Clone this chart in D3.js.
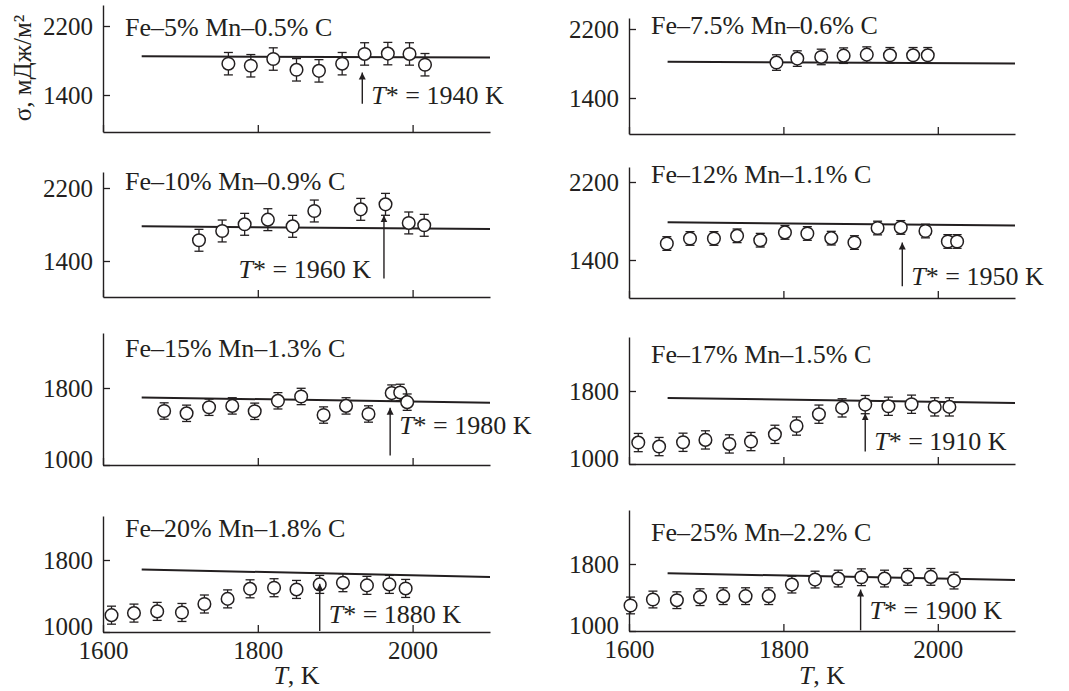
<!DOCTYPE html>
<html>
<head>
<meta charset="utf-8">
<script src="https://cdn.jsdelivr.net/npm/d3@7"></script>
<style>
  body { margin: 0; background: #fff; }
  svg { display: block; font-family: "Liberation Serif", "Times New Roman", serif; }
</style>
</head>
<body>
<svg id="chart" width="1069" height="691"></svg>
<script>
// ---- data ----
const titles = [
  'Fe–5% Mn–0.5% C', 'Fe–7.5% Mn–0.6% C',
  'Fe–10% Mn–0.9% C', 'Fe–12% Mn–1.1% C',
  'Fe–15% Mn–1.3% C', 'Fe–17% Mn–1.5% C',
  'Fe–20% Mn–1.8% C', 'Fe–25% Mn–2.2% C'
];

const temps = [
  [1762, 1791, 1820, 1850, 1879, 1909, 1938, 1968, 1996, 2016],
  [1791, 1818, 1849, 1878, 1908, 1938, 1968, 1987],
  [1724, 1754, 1783, 1813, 1845, 1873, 1933, 1965, 1995, 2015],
  [1649, 1679, 1710, 1740, 1770, 1802, 1831, 1862, 1892, 1922, 1952, 1984, 2013, 2025],
  [1679, 1708, 1737, 1767, 1796, 1826, 1856, 1885, 1914, 1943, 1973, 1984, 1993],
  [1612, 1639, 1670, 1699, 1730, 1758, 1789, 1817, 1846, 1876, 1906, 1936, 1966, 1996, 2015],
  [1611, 1640, 1670, 1702, 1731, 1761, 1790, 1821, 1850, 1880, 1910, 1941, 1970, 1991],
  [1602, 1631, 1662, 1692, 1722, 1751, 1781, 1811, 1841, 1871, 1901, 1931, 1961, 1991, 2021]
];

const sigmas = [
  [1763, 1739, 1817, 1692, 1680, 1763, 1876, 1880, 1876, 1751],
  [1811, 1857, 1876, 1891, 1903, 1895, 1895, 1895],
  [1627, 1729, 1802, 1853, 1780, 1948, 1966, 2021, 1817, 1791],
  [1569, 1621, 1621, 1648, 1603, 1683, 1672, 1624, 1579, 1728, 1734, 1697, 1590, 1590],
  [1561, 1537, 1600, 1614, 1558, 1667, 1712, 1519, 1614, 1530, 1747, 1754, 1653],
  [1235, 1191, 1238, 1264, 1220, 1246, 1325, 1416, 1546, 1615, 1651, 1633, 1655, 1626, 1626],
  [1187, 1210, 1229, 1217, 1311, 1368, 1480, 1492, 1473, 1529, 1548, 1518, 1529, 1484],
  [1305, 1376, 1368, 1404, 1416, 1416, 1416, 1554, 1614, 1626, 1642, 1626, 1646, 1646, 1602]
];

const errors = [130, 90, 120, 70, 85, 100, 100, 100];

// model line, from T = 1650 K to 2100 K
const fitT = [1650, 2100];
const fitSigma = [
  [1848, 1836], [1820, 1800], [1780, 1750], [1786, 1755],
  [1702, 1648], [1724, 1668], [1695, 1612], [1689, 1610]
];

// T* labels, where the arrows stand, arrow from/to sigma, label sigma
const tStar = [1940, null, 1960, 1950, 1980, 1910, 1880, 1900];
const arrowT = [1935, null, 1963, 1954, 1971, 1906, 1880, 1900];
const arrowFrom = [1300, null, 1207, 1131, 1098, 1137, 1010, 1008];
const arrowTo = [1660, null, 1900, 1579, 1595, 1554, 1537, 1495];
const labelSigma = [1405, null, 1317, 1234, 1420, 1257, 1206, 1250];
const labelSide = ['right', null, 'left', 'right', 'right', 'right', 'right', 'right'];

const xTicks = [1600, 1800, 2000];
const yTicksUpper = [1400, 2200];
const yTicksLower = [1000, 1800];

// ---- layout ----
const frames = [
  { x0: 103, x1: 490, top: 5,   bottom: 132, tickPx: [95, 26],   titleY: 36 },
  { x0: 629, x1: 1015, top: 18,  bottom: 134, tickPx: [98, 29],   titleY: 34 },
  { x0: 103, x1: 490, top: 172, bottom: 297, tickPx: [261, 188], titleY: 190 },
  { x0: 629, x1: 1015, top: 167, bottom: 298, tickPx: [260, 182], titleY: 183 },
  { x0: 103, x1: 490, top: 333, bottom: 465, tickPx: [465, 388], titleY: 357 },
  { x0: 629, x1: 1015, top: 337, bottom: 464, tickPx: [464, 391], titleY: 363 },
  { x0: 103, x1: 490, top: 516, bottom: 632, tickPx: [632, 560], titleY: 537 },
  { x0: 629, x1: 1015, top: 510, bottom: 631, tickPx: [631, 564], titleY: 541 }
];

const ink = '#231f20';
const fontSize = 26;
const tickFont = 25;

const svg = d3.select('#chart');
svg.append('rect').attr('width', 1069).attr('height', 691).attr('fill', '#fff');

svg.append('defs').append('marker')
  .attr('id', 'arrowhead')
  .attr('viewBox', '0 0 10 10')
  .attr('refX', 10).attr('refY', 5)
  .attr('markerWidth', 7).attr('markerHeight', 9)
  .attr('markerUnits', 'userSpaceOnUse')
  .attr('orient', 'auto')
  .append('path')
  .attr('d', 'M0,0 L10,5 L0,10 Z')
  .attr('fill', ink);

frames.forEach((f, i) => {
  const ticks = i < 4 ? yTicksUpper : yTicksLower;
  const bottomRow = i >= 6;

  const x = d3.scaleLinear().domain([1600, 2100]).range([f.x0, f.x1]);
  const yTmp = d3.scaleLinear().domain(ticks).range(f.tickPx);
  const y = d3.scaleLinear()
    .domain([yTmp.invert(f.bottom), yTmp.invert(f.top)])
    .range([f.bottom, f.top]);

  const g = svg.append('g');

  // axes
  const yAxis = g.append('g')
    .attr('transform', `translate(${f.x0},0)`)
    .call(d3.axisLeft(y).tickValues(ticks).tickSizeInner(-7).tickSizeOuter(0).tickPadding(10).tickFormat(d3.format('d')));
  const xAxis = g.append('g')
    .attr('transform', `translate(0,${f.bottom})`)
    .call(d3.axisBottom(x).tickValues(xTicks).tickSizeInner(-7).tickSizeOuter(0).tickPadding(9)
      .tickFormat(bottomRow ? d3.format('d') : () => ''));

  [yAxis, xAxis].forEach(a => {
    a.attr('font-family', null).attr('font-size', null);
    a.select('.domain').attr('stroke', ink).attr('stroke-width', 1.4);
    a.selectAll('.tick line').attr('stroke', ink).attr('stroke-width', 1.3);
    a.selectAll('.tick text').attr('fill', ink).style('font-size', tickFont + 'px');
  });
  // the "1000" label sits a little higher, clear of the corner
  yAxis.selectAll('.tick text').filter(d => d === 1000).attr('dy', '0.1em');

  // title
  g.append('text')
    .attr('x', f.x0 + 22)
    .attr('y', f.titleY)
    .attr('fill', ink)
    .style('font-size', fontSize + 'px')
    .text(titles[i]);

  // model line
  g.append('line')
    .attr('x1', x(fitT[0])).attr('y1', y(fitSigma[i][0]))
    .attr('x2', x(fitT[1])).attr('y2', y(fitSigma[i][1]))
    .attr('stroke', ink).attr('stroke-width', 2);

  // points with error bars
  const pts = temps[i].map((t, k) => ({ t, s: sigmas[i][k], e: errors[i] }));
  const pg = g.append('g').selectAll('g').data(pts).enter().append('g');
  pg.append('line')
    .attr('x1', d => x(d.t)).attr('x2', d => x(d.t))
    .attr('y1', d => y(d.s - d.e)).attr('y2', d => y(d.s + d.e))
    .attr('stroke', ink).attr('stroke-width', 1.3);
  [-1, 1].forEach(sgn => {
    pg.append('line')
      .attr('x1', d => x(d.t) - 4.5).attr('x2', d => x(d.t) + 4.5)
      .attr('y1', d => y(d.s + sgn * d.e)).attr('y2', d => y(d.s + sgn * d.e))
      .attr('stroke', ink).attr('stroke-width', 1.3);
  });
  pg.append('circle')
    .attr('cx', d => x(d.t)).attr('cy', d => y(d.s))
    .attr('r', 6.3)
    .attr('fill', '#fff').attr('stroke', ink).attr('stroke-width', 1.5);

  // T* arrow and label
  if (tStar[i] !== null) {
    g.append('line')
      .attr('x1', x(arrowT[i])).attr('x2', x(arrowT[i]))
      .attr('y1', y(arrowFrom[i])).attr('y2', y(arrowTo[i]))
      .attr('stroke', ink).attr('stroke-width', 1.4)
      .attr('marker-end', 'url(#arrowhead)');
    const right = labelSide[i] === 'right';
    const lbl = g.append('text')
      .attr('x', x(arrowT[i]) + (right ? 9 : -13))
      .attr('y', y(labelSigma[i]))
      .attr('dy', '0.35em')
      .attr('text-anchor', right ? 'start' : 'end')
      .attr('fill', ink)
      .style('font-size', fontSize + 'px');
    lbl.append('tspan').attr('font-style', 'italic').text('T');
    lbl.append('tspan').text(`* = ${tStar[i]} K`);
  }

  // x-axis title on the bottom row
  if (bottomRow) {
    const xl = g.append('text')
      .attr('x', x(1850))
      .attr('y', 684)
      .attr('text-anchor', 'middle')
      .attr('fill', ink)
      .style('font-size', fontSize + 'px');
    xl.append('tspan').attr('font-style', 'italic').text('T');
    xl.append('tspan').text(', K');
  }
});

// y-axis title
svg.append('text')
  .attr('transform', 'translate(22,68) rotate(-90)')
  .attr('text-anchor', 'middle')
  .attr('dy', '0.35em')
  .attr('fill', ink)
  .style('font-size', '25px')
  .text('σ, мДж/м²');
</script>
</body>
</html>
